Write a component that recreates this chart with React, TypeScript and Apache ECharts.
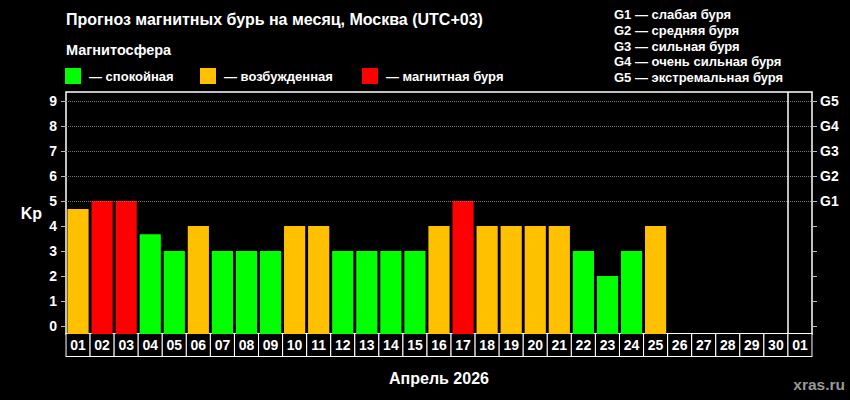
import * as echarts from 'echarts';
import { useEffect, useRef } from 'react';

const days = [
  '01', '02', '03', '04', '05', '06', '07', '08', '09', '10',
  '11', '12', '13', '14', '15', '16', '17', '18', '19', '20',
  '21', '22', '23', '24', '25', '26', '27', '28', '29', '30', '01',
];

// Kp forecast for April 2026 (no forecast after the 25th)
const kpValues = [
  4.67, 5, 5, 3.67, 3, 4, 3, 3, 3, 4,
  4, 3, 3, 3, 3, 4, 5, 4, 4, 4,
  4, 3, 2, 3, 4,
];

const yTicks = [0, 1, 2, 3, 4, 5, 6, 7, 8, 9];
const gLevels = [5, 6, 7, 8, 9];
const gLabels = ['G1', 'G2', 'G3', 'G4', 'G5'];
const gLegend = [
  'G1 — слабая буря',
  'G2 — средняя буря',
  'G3 — сильная буря',
  'G4 — очень сильная буря',
  'G5 — экстремальная буря',
];

const LEVELS = [
  { name: '— спокойная', color: '#00ff00', test: (v: number) => v < 4, left: 65 },
  { name: '— возбужденная', color: '#ffc000', test: (v: number) => v >= 4 && v < 5, left: 200 },
  { name: '— магнитная буря', color: '#ff0000', test: (v: number) => v >= 5, left: 362 },
];

const FONT = '"Liberation Sans", Arial, sans-serif';
const Y_MIN = -0.32;
const Y_MAX = 9.35;

export default function App() {
  const chartRef = useRef<HTMLDivElement>(null);

  useEffect(() => {
    if (!chartRef.current) return;
    const chart = echarts.init(chartRef.current, null, { renderer: 'svg' });

    // bars are drawn from the bottom of the plot, not from Kp = 0
    const barSeries: any[] = LEVELS.map(lvl => ({
      name: lvl.name,
      type: 'custom',
      itemStyle: { color: lvl.color },
      encode: { x: 0, y: 1 },
      data: kpValues
        .map((v, i) => [i, v])
        .filter(d => lvl.test(d[1])),
      renderItem: (params: any, api: any) => {
        const top = api.coord([api.value(0), api.value(1)]);
        const band = api.size([1, 0])[0];
        const w = band * 0.88;
        const bottom = params.coordSys.y + params.coordSys.height;
        return {
          type: 'rect',
          shape: { x: top[0] - w / 2, y: top[1], width: w, height: bottom - top[1] },
          style: { fill: api.visual('color') },
        };
      },
    }));

    chart.setOption({
      animation: false,
      backgroundColor: '#000',
      textStyle: { fontFamily: FONT },
      title: [
        {
          text: 'Прогноз магнитных бурь на месяц, Москва (UTC+03)',
          left: 66, top: 11, padding: 0,
          textStyle: { color: '#fff', fontSize: 16, fontWeight: 'bold', fontFamily: FONT },
        },
        {
          text: 'Магнитосфера',
          left: 66, top: 42, padding: 0,
          textStyle: { color: '#fff', fontSize: 14.5, fontWeight: 'bold', fontFamily: FONT },
        },
        {
          text: gLegend.join('\n'),
          left: 614, top: 7, padding: 0,
          textStyle: { color: '#fff', fontSize: 13, lineHeight: 15.7, fontWeight: 'bold', fontFamily: FONT },
        },
        {
          text: 'xras.ru',
          right: 5, top: 376, padding: 0,
          textStyle: { color: '#999', fontSize: 15.5, fontWeight: 'bold', fontFamily: FONT },
        },
      ],
      legend: LEVELS.map(lvl => ({
        data: [lvl.name],
        left: lvl.left,
        top: 68,
        padding: 0,
        icon: 'rect',
        itemWidth: 16,
        itemHeight: 16,
        selectedMode: false,
        textStyle: { color: '#fff', fontSize: 13, fontWeight: 'bold', fontFamily: FONT, padding: [0, 0, 0, 3] },
      })),
      grid: {
        left: 66, right: 38, top: 92, bottom: 66,
        show: true, borderColor: '#fff', borderWidth: 1.5,
      },
      xAxis: [
        {
          type: 'category',
          data: days,
          name: 'Апрель 2026',
          nameLocation: 'middle',
          nameGap: 36,
          nameTextStyle: { color: '#fff', fontSize: 16, fontWeight: 'bold', fontFamily: FONT },
          axisLine: { show: false },
          axisTick: { show: false },
          axisLabel: {
            interval: 0,
            margin: 0,
            color: '#fff',
            fontSize: 14,
            fontWeight: 'bold',
            fontFamily: FONT,
            width: 23,
            height: 22,
            lineHeight: 22,
            padding: 0,
            align: 'center',
            verticalAlign: 'top',
            borderColor: '#fff',
            borderWidth: 1,
            backgroundColor: '#000',
          },
        },
        { type: 'value', min: 0, max: days.length, show: false },
      ],
      yAxis: [
        {
          type: 'value',
          min: Y_MIN,
          max: Y_MAX,
          name: 'Kp',
          nameLocation: 'middle',
          nameRotate: 0,
          nameGap: 24,
          nameTextStyle: { color: '#fff', fontSize: 16, fontWeight: 'bold', fontFamily: FONT },
          axisLine: { show: false },
          splitLine: { show: false },
          axisTick: { show: true, customValues: yTicks, length: 5, lineStyle: { color: '#bbb' } },
          axisLabel: {
            customValues: yTicks, margin: 9,
            color: '#fff', fontSize: 14, fontWeight: 'bold', fontFamily: FONT,
          },
        },
        {
          type: 'value',
          position: 'right',
          min: Y_MIN,
          max: Y_MAX,
          axisLine: { show: false },
          splitLine: { show: false },
          axisTick: { show: true, customValues: yTicks, length: 5, lineStyle: { color: '#bbb' } },
          axisLabel: {
            customValues: gLevels, margin: 8,
            formatter: (v: number) => gLabels[gLevels.indexOf(v)] ?? '',
            color: '#fff', fontSize: 14, fontWeight: 'bold', fontFamily: FONT,
          },
        },
      ],
      series: [
        {
          type: 'line',
          xAxisIndex: 1,
          yAxisIndex: 0,
          data: [],
          silent: true,
          markLine: {
            silent: true,
            symbol: ['none', 'none'],
            label: { show: false },
            data: [
              ...gLevels.map(v => ({
                yAxis: v,
                lineStyle: { color: '#777', type: 'dotted', width: 1 },
              })),
              { xAxis: days.length - 1, lineStyle: { color: '#fff', type: 'solid', width: 1.5 } },
            ],
          },
        },
        ...barSeries,
      ],
    });

    return () => chart.dispose();
  }, []);

  return (
    <div
      ref={chartRef}
      style={{ position: 'fixed', left: 0, top: 0, width: 850, height: 400 }}
    />
  );
}
